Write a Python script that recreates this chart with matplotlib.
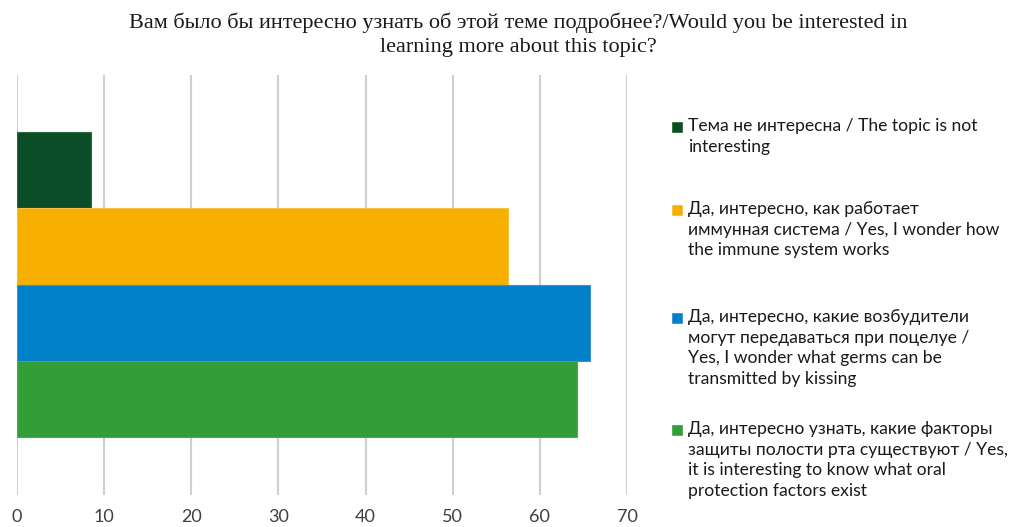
import matplotlib.pyplot as plt
from matplotlib.patches import Rectangle

# data (percent of respondents)
labels = [
    'Тема не интересна / The topic is not\ninteresting',
    'Да, интересно, как работает\nиммунная система / Yes, I wonder how\nthe immune system works',
    'Да, интересно, какие возбудители\nмогут передаваться при поцелуе /\nYes, I wonder what germs can be\ntransmitted by kissing',
    'Да, интересно узнать, какие факторы\nзащиты полости рта существуют / Yes,\nit is interesting to know what oral\nprotection factors exist',
]
values = [8.5, 56.3, 65.7, 64.3]
colors = ['#0A4D28', '#F7B000', '#0080C8', '#339E37']
edges = ['#2E6B3A', '#F5C040', '#3C8FD0', '#4FA84F']
xticks = [0, 10, 20, 30, 40, 50, 60, 70]

title = ('Вам было бы интересно узнать об этой теме подробнее?/Would you be interested in\n'
         'learning more about this topic?')

fig = plt.figure(figsize=(10.09, 5.27), dpi=100)
ax = fig.add_axes([0.0168, 0.0607, 0.6046, 0.797])

# top series first
n = len(values)
for i, (v, c, e) in enumerate(zip(values, colors, edges)):
    ax.barh(n - 1 - i, v, height=1.0, color=c, edgecolor=e, linewidth=0.8, zorder=3)

ax.set_xlim(0, 70)
ax.set_ylim(-1.26, 4.25)
ax.set_xticks(xticks)
ax.set_yticks([])
ax.grid(axis='x', color='#D0D0D0', linewidth=1.5, zorder=0)
for s in ax.spines.values():
    s.set_visible(False)
ax.tick_params(axis='x', length=0, pad=10, labelsize=13, labelcolor='#404040')
for t in ax.get_xticklabels():
    t.set_family('Lato')

fig.text(0.514, 0.934, title, ha='center', va='center', fontsize=16,
         family='Liberation Serif', color='#1a1a1a', linespacing=1.38)

# legend, placed by hand like the Excel one
leg_y = [127, 210, 318, 430]   # pixel y of first line of each entry
for lab, c, e, y in zip(labels, colors, edges, leg_y):
    fy = 1 - y / 527
    fig.patches.append(Rectangle((672 / 1009, fy - 5 / 527), 10 / 1009, 10 / 527,
                                 transform=fig.transFigure, facecolor=c,
                                 edgecolor=e, linewidth=0.6))
    fig.text(688 / 1009, fy + 9 / 527, lab, ha='left', va='top', fontsize=12.6,
             family='Lato', color='#1a1a1a', linespacing=1.36)

fig.savefig('out.png', dpi=100)
